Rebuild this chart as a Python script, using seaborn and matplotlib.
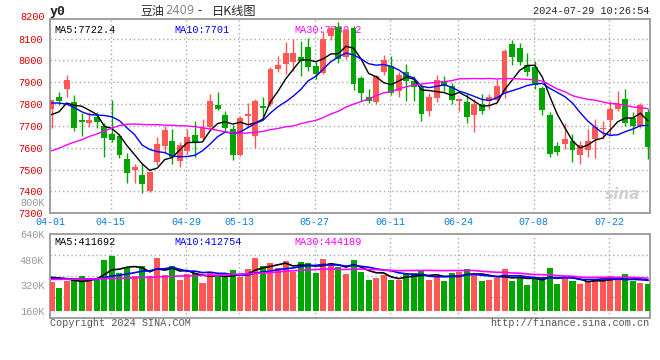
import numpy as np
import pandas as pd
import matplotlib
matplotlib.use("Agg")
import matplotlib.pyplot as plt
import seaborn as sns

# trading days 2024-04-01 .. 2024-07-29 (exchange holidays removed)
holidays = ["2024-04-04", "2024-04-05", "2024-05-01", "2024-05-02", "2024-05-03", "2024-06-10"]
dates = [d for d in pd.bdate_range("2024-04-01", "2024-07-29") if d.strftime("%Y-%m-%d") not in holidays]
tick_labels = ["04-01", "04-15", "04-29", "05-13", "05-27", "06-11", "06-24", "07-08", "07-22"]

opens = [7778, 7832, 7869, 7812, 7726, 7715, 7743, 7700, 7661, 7653,
         7550, 7497, 7477, 7400, 7535, 7610, 7632, 7540, 7585, 7658,
         7645, 7695, 7797, 7750, 7685, 7566, 7746, 7655, 7792, 7802,
         7961, 7983, 7991, 8017, 8060, 7973, 7942, 8112, 8152, 8018,
         8147, 7922, 7834, 7810, 7945, 7973, 7861, 7945, 7907, 7879,
         7770, 7830, 7907, 7884, 7815, 7812, 7750, 7800, 7815, 7820,
         7856, 8074, 8059, 7978, 7968, 7872, 7750, 7609, 7618, 7631,
         7567, 7592, 7641, 7686, 7729, 7778, 7823, 7735, 7702, 7763]
highs = [7820, 7857, 7935, 7841, 7761, 7766, 7765, 7715, 7818, 7661,
         7577, 7526, 7524, 7495, 7650, 7700, 7685, 7628, 7685, 7725,
         7730, 7845, 7856, 7769, 7703, 7746, 7807, 7822, 7835, 7968,
         8022, 8083, 8098, 8090, 8105, 7991, 8136, 8159, 8174, 8145,
         8159, 7930, 7870, 7932, 8026, 8021, 7945, 7983, 7930, 7891,
         7853, 7934, 7930, 7899, 7830, 7845, 7823, 7846, 7846, 7914,
         8052, 8094, 8082, 8033, 7998, 7884, 7762, 7625, 7715, 7665,
         7633, 7686, 7732, 7724, 7816, 7862, 7869, 7766, 7805, 7778]
lows = [7692, 7795, 7835, 7677, 7654, 7694, 7689, 7557, 7626, 7554,
        7438, 7438, 7394, 7398, 7520, 7575, 7525, 7510, 7570, 7560,
        7638, 7685, 7772, 7678, 7545, 7563, 7697, 7601, 7740, 7790,
        7945, 7938, 7953, 7930, 7953, 7915, 7938, 8095, 7990, 8005,
        7866, 7816, 7803, 7800, 7935, 7840, 7834, 7815, 7815, 7721,
        7747, 7810, 7861, 7800, 7770, 7715, 7673, 7754, 7780, 7810,
        7830, 7978, 7980, 7930, 7868, 7750, 7560, 7567, 7596, 7537,
        7526, 7557, 7552, 7641, 7656, 7770, 7701, 7663, 7690, 7549]
closes = [7818, 7815, 7912, 7690, 7718, 7726, 7718, 7643, 7638, 7566,
          7484, 7511, 7435, 7487, 7618, 7680, 7557, 7615, 7650, 7622,
          7690, 7815, 7778, 7693, 7566, 7736, 7757, 7815, 7784, 7962,
          7980, 8034, 8034, 7999, 7968, 7938, 8098, 8147, 8005, 8138,
          7893, 7852, 7815, 7930, 8001, 7849, 7934, 7907, 7879, 7757,
          7834, 7910, 7884, 7818, 7823, 7741, 7800, 7769, 7835, 7881,
          8044, 8018, 7994, 7948, 7887, 7774, 7571, 7582, 7641, 7592,
          7613, 7633, 7697, 7689, 7778, 7801, 7714, 7702, 7796, 7602]

# volume in thousands of lots
volume = [341, 300, 346, 352, 377, 366, 356, 477, 504, 398,
          425, 377, 440, 377, 492, 383, 440, 352, 390, 398,
          335, 404, 369, 369, 415, 373, 421, 492, 440, 460,
          425, 471, 404, 465, 460, 398, 483, 460, 435, 389,
          477, 404, 352, 366, 383, 352, 352, 398, 394, 408,
          352, 373, 346, 394, 404, 421, 383, 346, 352, 362,
          421, 346, 362, 321, 362, 373, 429, 327, 362, 346,
          327, 346, 356, 362, 377, 352, 389, 346, 335, 327]

# moving-average values before a full window is available
ma5_head = [7752, 7765, 7805, 7795]
ma10_head = [7805, 7805, 7800, 7785, 7765, 7752, 7750, 7748, 7742]
ma30_head = [7586, 7598, 7613, 7626, 7637, 7652, 7663, 7678, 7690, 7702,
             7708, 7709, 7707, 7706, 7706, 7704, 7703, 7701, 7700, 7697,
             7692, 7686, 7680, 7673, 7668, 7666, 7668, 7671, 7675]
vma5_head = [369, 365, 360, 350]
vma10_head = [362, 361, 360, 359, 358, 358, 360, 367, 377]
vma30_head = [356, 356, 357, 357, 358, 358, 359, 361, 362, 362,
              364, 366, 368, 369, 372, 373, 375, 377, 378, 379,
              381, 382, 383, 385, 387, 389, 391, 393, 396]

ma_text = ["MA5:7722.4", "MA10:7701", "MA30:7780.2"]
vma_text = ["MA5:411692", "MA10:412754", "MA30:444189"]
price_ticks = [7300, 7400, 7500, 7600, 7700, 7800, 7900, 8000, 8100]
vol_ticks = [160, 320, 480, 640]

RED = "#ff5656"
GREEN = "#00a600"
GRID = "#aaaaaa"
SPINE = "#999999"
MA_COLORS = ["black", "#0000ff", "#ff00ff"]


def with_head(series, window, head):
    out = series.rolling(window).mean()
    out.iloc[:len(head)] = head
    return out


sns.set_style("white")
plt.rcParams["font.family"] = ["Liberation Mono", "Noto Sans CJK SC", "DejaVu Sans"]

W, H = 660, 360
fig = plt.figure(figsize=(W / 100, H / 100), dpi=100)
fig.patch.set_facecolor("white")


def px_axes(left, top, right, bottom):
    return fig.add_axes([left / W, 1 - bottom / H, (right - left) / W, (bottom - top) / H])


ax = px_axes(50, 19, 649.5, 213.3)
axv = px_axes(50, 234, 649.5, 317.7)

n = len(dates)
x = np.arange(n)
o = np.array(opens, dtype=float)
c = np.array(closes, dtype=float)
colors = np.where(c >= o, RED, GREEN)
date_str = [d.strftime("%m-%d") for d in dates]
tick_pos = [date_str.index(t) - 0.15 for t in tick_labels]

# ---- price panel ----
ax.vlines(x, lows, highs, colors=colors, linewidth=1, zorder=3)
body_h = np.maximum(np.abs(c - o), 2.5)
ax.bar(x, body_h, bottom=np.minimum(o, c), width=0.78, color=colors, linewidth=0, zorder=4)

close_s = pd.Series(c)
for win, head, col in zip([5, 10, 30], [ma5_head, ma10_head, ma30_head], MA_COLORS):
    sns.lineplot(x=x, y=with_head(close_s, win, head).values, ax=ax, color=col,
                 linewidth=1, zorder=5, legend=False)

ax.set_xlim(-0.2, 79.2)
ax.set_ylim(7300, 8190)
ax.set_yticks(price_ticks)
ax.set_yticklabels([str(p) for p in price_ticks])
ax.set_xticks(tick_pos)
ax.set_xticklabels(tick_labels)
ax.grid(True, color=GRID, linestyle=(0, (1, 2)), linewidth=1)
ax.tick_params(axis="y", colors="#e00000", labelsize=7.4, length=3, width=1, pad=2)
ax.tick_params(axis="x", colors="#0a7fd8", labelsize=7.2, length=0, pad=3)
ax.text(-0.008, 8200, "8200", transform=ax.get_yaxis_transform(), ha="right", va="center",
        color="#e00000", fontsize=7.4, clip_on=False)
ax.text(-0.008, 7345, "800K", transform=ax.get_yaxis_transform(), ha="right", va="center",
        color="#999999", fontsize=7.4, clip_on=False)
ax.set_xlabel("")
ax.set_ylabel("")

for i, (t, col) in enumerate(zip(ma_text, MA_COLORS)):
    ax.text(0.008 + i * 0.2, 0.97, t, transform=ax.transAxes, ha="left", va="top",
            color=col, fontsize=7.3, zorder=2)

ax.text(0.985, 0.06, "sina", transform=ax.transAxes, ha="right", va="bottom",
        color="#d0d0d0", fontsize=11, fontstyle="italic", fontweight="bold",
        family="DejaVu Sans", zorder=1)

# ---- volume panel ----
vol_floor = 160
vol = np.array(volume, dtype=float)
axv.bar(x, vol - vol_floor, bottom=vol_floor, width=0.8, color=colors, linewidth=0, zorder=3)
vol_s = pd.Series(vol)
for win, head, col in zip([5, 10, 30], [vma5_head, vma10_head, vma30_head], MA_COLORS):
    sns.lineplot(x=x, y=with_head(vol_s, win, head).values, ax=axv, color=col,
                 linewidth=1.2, zorder=5, legend=False)

axv.set_xlim(-0.2, 79.2)
vol_lo = vol_floor - 7 * 480 / 76.7
axv.set_ylim(vol_lo, 640)
axv.set_yticks(vol_ticks)
axv.set_yticklabels([f"{v}K" for v in vol_ticks])
axv.set_yticks(np.linspace(vol_lo, 640, 5)[1:-1], minor=True)
axv.set_xticks(tick_pos)
axv.set_xticklabels([])
axv.grid(True, axis="x", color=GRID, linestyle=(0, (1, 2)), linewidth=1)
axv.grid(True, axis="y", which="minor", color=GRID, linestyle=(0, (1, 2)), linewidth=1)
axv.grid(False, axis="y", which="major")
axv.tick_params(axis="y", which="major", colors="#999999", labelsize=7.4, length=0, pad=4)
axv.tick_params(axis="y", which="minor", length=0)
axv.tick_params(axis="x", length=0)
axv.set_xlabel("")
axv.set_ylabel("")

for i, (t, col) in enumerate(zip(vma_text, MA_COLORS)):
    axv.text(0.008 + i * 0.2, 0.97, t, transform=axv.transAxes, ha="left", va="top",
             color=col, fontsize=7.3, zorder=6)

for a in (ax, axv):
    for sp in a.spines.values():
        sp.set_color(SPINE)
        sp.set_linewidth(1.3)
        sp.set_visible(True)

# ---- header / footer ----
fig.text(50 / W, 1 - 11 / H, "y0", ha="left", va="center", fontsize=9.5,
         fontweight="bold", family="DejaVu Sans Mono")
fig.text(140 / W, 1 - 11 / H, "豆油", ha="left", va="center", fontsize=8.6, family="Noto Sans CJK SC")
fig.text(165 / W, 1 - 11 / H, "2409", ha="left", va="center", fontsize=8.3, color="#888888",
         family="DejaVu Sans")
fig.text(197 / W, 1 - 11 / H, "-", ha="left", va="center", fontsize=8.3, family="DejaVu Sans")
fig.text(212 / W, 1 - 11 / H, "日K线图", ha="left", va="center", fontsize=8.8,
         family="Noto Sans CJK SC")
fig.text(649 / W, 1 - 11.5 / H, "2024-07-29 10:26:54", ha="right", va="center", fontsize=7.4)
fig.text(50 / W, 1 - 323.5 / H, "Copyright 2024 SINA.COM", ha="left", va="center",
         fontsize=7.3, color="#555555")
fig.text(649 / W, 1 - 323.5 / H, "http://finance.sina.com.cn", ha="right", va="center",
         fontsize=7.3, color="#555555")

fig.savefig("out.png", dpi=100, facecolor="white")
